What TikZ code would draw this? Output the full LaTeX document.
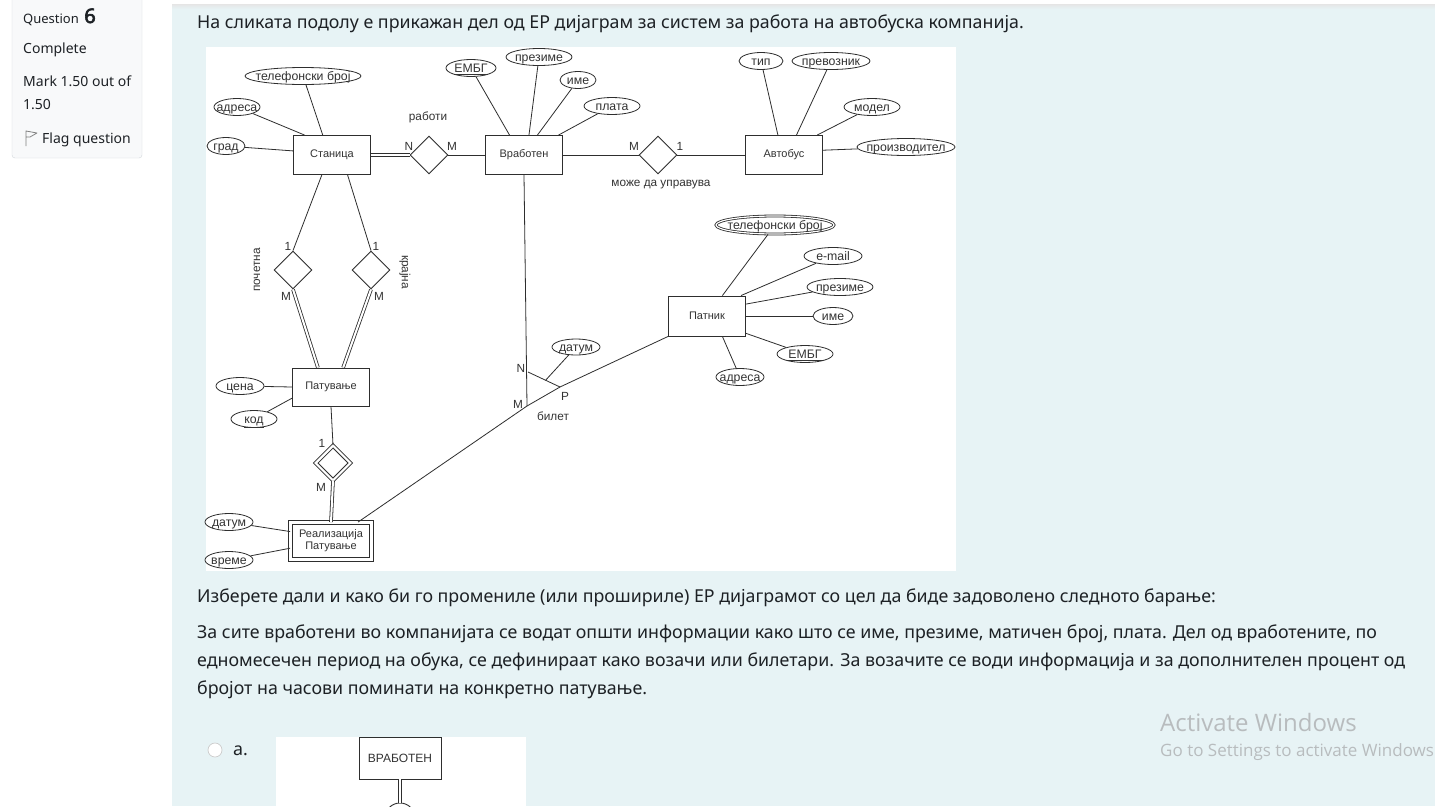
\documentclass[tikz,border=0pt]{standalone}
\usepackage{fontspec}
\setmainfont{Noto Sans}
\newfontfamily\erfont{Liberation Sans}
\newfontfamily\webfont{Noto Sans}
\newfontfamily\webboldfont{Noto Sans}[FakeBold=3]
\newfontfamily\winfont{Open Sans}
\usepackage{tikz}
\usetikzlibrary{positioning,shapes.geometric,backgrounds,calc}

\definecolor{pagebg}{HTML}{E7F3F5}
\definecolor{sidebg}{HTML}{F8F9FA}
\definecolor{sideline}{HTML}{D3D8DC}
\definecolor{webtext}{HTML}{1D2125}
\definecolor{erline}{HTML}{2E2E2E}
\definecolor{ertext}{HTML}{333333}
\definecolor{wingray}{HTML}{B8BCBE}

\newcommand{\erbig}{\erfont\fontsize{11}{12}\selectfont}
\newcommand{\ersmall}{\erfont\fontsize{12.3}{13}\selectfont}
\newcommand{\ercard}{\erfont\fontsize{11.8}{13}\selectfont}
\newcommand{\webbody}{\webfont\fontsize{17.8}{20}\selectfont}
% attribute text does not widen its ellipse
\newcommand{\attrlabel}[1]{\raisebox{-0.36em}[0pt][0pt]{\makebox[0pt]{#1}}}

\tikzset{
    entity/.style={draw=erline, line width=0.9pt, fill=white, minimum width=77pt,
        minimum height=39pt, inner sep=0pt, font=\erbig, text=ertext},
    weakentity/.style={entity, double, double distance=3.5pt, minimum width=81pt,
        minimum height=37pt, align=center},
    attr/.style={draw=erline, line width=0.8pt, ellipse, fill=white, minimum height=17pt,
        inner sep=0pt, font=\ersmall, text=ertext},
    multiattr/.style={attr, double, double distance=1.2pt},
    rel/.style={draw=erline, line width=0.9pt, diamond, fill=white, minimum width=38pt,
        minimum height=38pt, inner sep=0pt},
    weakrel/.style={rel, double, double distance=2.2pt, minimum width=35pt, minimum height=35pt},
    erlink/.style={draw=erline, line width=0.8pt},
    twolink/.style={erlink, double, double distance=2pt},
    card/.style={font=\ercard, text=ertext, inner sep=0pt},
    webline/.style={anchor=west, font=\webbody, text=webtext, inner sep=0pt},
}

\begin{document}
\begin{tikzpicture}[x=1pt,y=-1pt]
    \useasboundingbox (0,0) rectangle (1435,806);

    %% page and side panel
    \fill[white] (0,0) rectangle (1435,806);
    \fill[pagebg] (172,5) rectangle (1435,806);
    \shade[top color=black!10, bottom color=pagebg] (172,4) rectangle (1435,9);
    \draw[fill=sidebg, draw=sideline, rounded corners=3pt] (12,-8) rectangle (142,158);
    \node[anchor=base west, font=\webfont\fontsize{13}{15}\selectfont, text=webtext, inner sep=0pt] (qword) at (23,23) {Question};
    \node[anchor=base west, font=\webboldfont\fontsize{20}{22}\selectfont, text=webtext, inner sep=0pt] (qnum) at ($(qword.base east)+(5,0)$) {6};
    \node[anchor=base west, font=\webfont\fontsize{14}{16}\selectfont, text=webtext, inner sep=0pt] (qstate) at (23,53) {Complete};
    \node[anchor=base west, font=\webfont\fontsize{14}{16}\selectfont, text=webtext, inner sep=0pt] (qmark) at (23,86) {Mark 1.50 out of};
    \node[anchor=base west, font=\webfont\fontsize{14}{16}\selectfont, text=webtext, inner sep=0pt] (qmarktwo) at (23,109) {1.50};
    \draw[gray, line width=0.8pt, line join=round] (26,146) -- (26,131) -- (37,133) -- (30,137) -- (26,137);
    \node[anchor=base west, font=\webfont\fontsize{14}{16}\selectfont, text=webtext, inner sep=0pt] (qflag) at (42,143) {Flag question};

    %% question text
    \node[webline] (intro) at (197,24) {На сликата подолу е прикажан дел од ЕР дијаграм за систем за работа на автобуска компанија.};
    \fill[white] (206,47) rectangle (956,571);

    %% entities
    \node[entity] (stanica) at (332,155) {Станица};
    \node[entity] (vraboten) at (524,155) {Вработен};
    \node[entity] (avtobus) at (784,155) {Автобус};
    \node[entity, minimum height=40pt] (patnik) at (707,316) {Патник};
    \node[entity, minimum height=38pt] (patuvanje) at (331,387) {Патување};
    \node[weakentity] (realizacija) at (331,541) {Реализација\\Патување};

    %% relationships
    \node[rel] (raboti) at (429,155) {};
    \node[rel] (upravuva) at (658,155) {};
    \node[rel] (pocetna) at (293,270) {};
    \node[rel] (krajna) at (371,270) {};
    \node[weakrel] (realizira) at (333,463) {};
    \node[card] at (428,117) {работи};
    \node[card] at (661,185) {може да управува};
    \node[card, rotate=90] at (257,270) {почетна};
    \node[card, rotate=-90] at (405,272) {крајна};

    %% attributes of Станица
    \node[attr, minimum width=116pt] (stanicatel) at (303,76) {\attrlabel{телефонски број}};
    \node[attr, minimum width=46pt] (stanicaadr) at (237,107) {\attrlabel{адреса}};
    \node[attr, minimum width=38pt] (stanicagrad) at (226,146) {\attrlabel{град}};
    \draw[erlink] (stanicatel) -- (stanica.115);
    \draw[erlink] (stanicaadr) -- (stanica.144);
    \draw[erlink] (stanicagrad) -- (stanica.174);

    %% attributes of Вработен
    \node[attr, minimum width=50pt] (vrabotenembg) at (471,68) {\attrlabel{\underline{ЕМБГ}}};
    \node[attr, minimum width=66pt] (vrabotenprez) at (539,57) {\attrlabel{презиме}};
    \node[attr, minimum width=36pt] (vrabotenime) at (578,80) {\attrlabel{име}};
    \node[attr, minimum width=56pt] (vrabotenplata) at (612,106) {\attrlabel{плата}};
    \draw[erlink] (vrabotenembg) -- (vraboten.126);
    \draw[erlink] (vrabotenprez) -- (vraboten.76);
    \draw[erlink] (vrabotenime) -- (vraboten.56);
    \draw[erlink] (vrabotenplata) -- (vraboten.30);

    %% attributes of Автобус
    \node[attr, minimum width=44pt] (avtobustip) at (761,61) {\attrlabel{тип}};
    \node[attr, minimum width=78pt] (avtobusprev) at (831,61) {\attrlabel{превозник}};
    \node[attr, minimum width=56pt] (avtobusmodel) at (872,107) {\attrlabel{модел}};
    \node[attr, minimum width=98pt] (avtobusproiz) at (906,147) {\attrlabel{производител}};
    \draw[erlink] (avtobustip) -- (avtobus.107);
    \draw[erlink] (avtobusprev) -- (avtobus.58);
    \draw[erlink] (avtobusmodel) -- (avtobus.31);
    \draw[erlink] (avtobusproiz) -- (avtobus.7);

    %% attributes of Патник
    \node[multiattr, minimum width=118pt, minimum height=18pt] (patniktel) at (775,225) {\attrlabel{телефонски број}};
    \node[attr, minimum width=58pt] (patnikmail) at (833,256) {\attrlabel{e-mail}};
    \node[attr, minimum width=66pt] (patnikprez) at (840,287) {\attrlabel{презиме}};
    \node[attr, minimum width=40pt] (patnikime) at (833,316) {\attrlabel{име}};
    \node[attr, minimum width=56pt] (patnikembg) at (805,354) {\attrlabel{\underline{ЕМБГ}}};
    \node[attr, minimum width=48pt] (patnikadr) at (740,377) {\attrlabel{адреса}};
    \draw[erlink] (patniktel) -- (patnik.53);
    \draw[erlink] (patnikmail) -- (patnik.31);
    \draw[erlink] (patnikprez) -- (patnik.17);
    \draw[erlink] (patnikime) -- (patnik.east);
    \draw[erlink] (patnikembg) -- (patnik.336);
    \draw[erlink] (patnikadr) -- (patnik.307);

    %% attributes of Патување and Реализација
    \node[attr, minimum width=48pt] (patuvanjecena) at (240,386) {\attrlabel{цена}};
    \node[attr, minimum width=46pt] (patuvanjekod) at (254,419) {\attrlabel{\underline{код}}};
    \node[attr, minimum width=48pt] (realdatum) at (229,522) {\attrlabel{датум}};
    \node[attr, minimum width=48pt] (realvreme) at (229,560) {\attrlabel{време}};
    \draw[erlink] (patuvanjecena) -- (patuvanje.west);
    \draw[erlink] (patuvanjekod) -- (patuvanje.196);
    \draw[erlink] (realdatum) -- (realizacija.167);
    \draw[erlink] (realvreme) -- (realizacija.190);

    %% relationship links
    \draw[twolink] (stanica.east) -- (raboti.west);
    \draw[erlink] (raboti.east) -- (vraboten.west);
    \draw[erlink] (vraboten.east) -- (upravuva.west);
    \draw[erlink] (upravuva.east) -- (avtobus.west);
    \draw[erlink] (stanica.243) -- (pocetna.north);
    \draw[erlink] (stanica.308) -- (krajna.north);
    \draw[twolink] (pocetna.south) -- (patuvanje.124);
    \draw[twolink] (krajna.south) -- (patuvanje.58);
    \draw[erlink] (patuvanje.south) -- (realizira.north);
    \draw[twolink] (realizira.south) -- (realizacija.north);
    \node[card] at (409,146) {N};
    \node[card] at (452,146) {M};
    \node[card] at (634,146) {M};
    \node[card] at (680,146) {1};
    \node[card] at (288,246) {1};
    \node[card] at (286,296) {M};
    \node[card] at (376,246) {1};
    \node[card] at (379,296) {M};
    \node[card] at (322,443) {1};
    \node[card] at (321,487) {M};

    %% ternary билет
    \coordinate (bilN) at (528,372);
    \coordinate (bilM) at (527,406);
    \coordinate (bilP) at (560,387);
    \draw[erlink] (realizacija.35) -- (bilM);
    \draw[erlink] (bilM) -- (bilP);
    \draw[erlink] (bilP) -- (patnik.south west);
    \draw[erlink] (vraboten.south) -- (bilM);
    \draw[erlink] (bilN) -- (bilP);
    \node[attr, minimum width=48pt, minimum height=16pt] (bildatum) at (576,347) {\attrlabel{датум}};
    \draw[erlink] (bildatum) -- ($(bilN)!0.55!(bilP)$);
    \node[card] at (521,368) {N};
    \node[card] at (518,404) {M};
    \node[card] at (565,396) {P};
    \node[card] at (553,416) {билет};

    %% requirement text
    \node[webline] (ask) at (197,598) {Изберете дали и како би го промениле (или прошириле) ЕР дијаграмот со цел да биде задоволено следното барање:};
    \node[webline] (reqone) at (197,634) {За сите вработени во компанијата се водат општи информации како што се име, презиме, матичен број, плата. Дел од вработените, по};
    \node[webline] (reqtwo) at (197,662) {едномесечен период на обука, се дефинираат како возачи или билетари. За возачите се води информација и за дополнителен процент од};
    \node[webline] (reqthree) at (197,690) {бројот на часови поминати на конкретно патување.};

    %% option a
    \draw[fill=white, draw=black!20, line width=0.7pt] (215,750) circle (7);
    \node[webline] (opta) at (233,751) {a.};
    \begin{scope}
        \clip (276,737) rectangle (526,806);
        \fill[white] (276,737) rectangle (526,806);
        \node[draw=erline, line width=0.9pt, minimum width=82pt, minimum height=42pt, inner sep=0pt,
            font=\erfont\fontsize{12}{13}\selectfont, text=ertext] (optvraboten) at (400,758) {ВРАБОТЕН};
        \draw[erline, line width=0.9pt, fill=white] (400,818) circle (15);
        \coordinate (optcircle) at (400,803);
        \draw[twolink] (optvraboten.south) -- (optcircle);
    \end{scope}

    %% windows notice
    \node[anchor=west, font=\winfont\fontsize{24}{26}\selectfont, text=wingray, inner sep=0pt] (winone) at (1160,722) {Activate Windows};
    \node[anchor=west, font=\winfont\fontsize{17}{19}\selectfont, text=wingray, inner sep=0pt] (wintwo) at (1160,752) {Go to Settings to activate Windows};
\end{tikzpicture}
\end{document}
